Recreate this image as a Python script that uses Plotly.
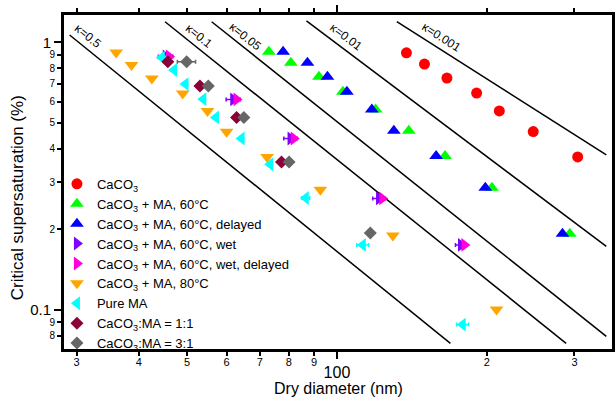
import plotly.graph_objects as go

# ---------------- data ----------------
caco3_d = [137.9, 149.9, 166.3, 190.8, 211.9, 247.9, 304.5]
caco3_s = [0.914, 0.829, 0.735, 0.646, 0.554, 0.464, 0.373]

ma60_d = [72.97, 80.78, 92.0, 102.8, 119.6, 139.4, 164.9, 204.8, 293.6]
ma60_s = [0.922, 0.839, 0.743, 0.653, 0.561, 0.467, 0.376, 0.286, 0.1926]

ma60del_d = [77.95, 87.24, 95.7, 104.7, 117.5, 130.1, 158.2, 198.6, 283.8]
ma60del_s = [0.922, 0.839, 0.743, 0.653, 0.561, 0.467, 0.376, 0.286, 0.1926]

wet_d = [45.3, 61.9, 80.7, 121.5, 177.5]
wet_s = [0.885, 0.612, 0.437, 0.261, 0.1749]
wet_err = [1.5, 2.0, 2.5, 3.5, 4.5]

wetdel_d = [45.99, 62.86, 81.90, 123.3, 180.3]
wetdel_s = [0.885, 0.612, 0.437, 0.261, 0.1749]

ma80_d = [36.02, 38.66, 42.48, 49.00, 54.95, 60.02, 72.40, 92.6, 129.5, 209.2]
ma80_s = [0.917, 0.822, 0.733, 0.644, 0.554, 0.463, 0.373, 0.2813, 0.1898, 0.1003]

pure_d = [44.48, 47.07, 49.63, 53.89, 57.14, 64.33, 73.41, 86.56, 112.7, 178.9]
pure_s = [0.877, 0.788, 0.698, 0.613, 0.524, 0.437, 0.350, 0.262, 0.1749, 0.0881]
pure_err = [0.8, 0.5, 0.5, 0.5, 0.5, 0.6, 0.8, 1.6, 3.1, 5.0]

r11_d = [45.74, 53.06, 62.86, 77.38]
r11_s = [0.847, 0.686, 0.524, 0.357]

r31_d = [49.90, 55.15, 65.01, 80.13, 116.7]
r31_s = [0.847, 0.686, 0.524, 0.357, 0.1936]
r31_err = [2.1, 0.5, 0.5, 0.5, 0.5]

# kappa lines: end points (diameter nm, supersaturation %)
kappa_labels = ["κ=0.5", "κ=0.1", "κ=0.05", "κ=0.01", "κ=0.001"]
kappa_d0 = [29.04, 45.15, 56.02, 86.84, 131.9]
kappa_s0 = [1.065, 1.194, 1.194, 1.202, 1.194]
kappa_d1 = [169.0, 288.6, 347.6, 347.6, 347.6]
kappa_s1 = [0.0750, 0.0750, 0.0796, 0.1726, 0.3793]
# label anchor (log10 units) and angle
kappa_lab_x = [1.4994, 1.7228, 1.8170, 2.0188, 2.2092]
kappa_lab_y = [0.0236, 0.0236, 0.021, 0.021, 0.021]
kappa_lab_ang = [39, 38.6, 38.4, 36.8, 32.3]

x_minor_vals = [30, 40, 50, 60, 70, 80, 90, 200, 300]
x_minor_text = ["3", "4", "5", "6", "7", "8", "9", "2", "3"]
y_minor_vals = [0.08, 0.09, 0.2, 0.3, 0.4, 0.5, 0.6, 0.7, 0.8, 0.9]
y_minor_text = ["8", "9", "2", "3", "4", "5", "6", "7", "8", "9"]

FONT = "Liberation Sans, Arial, sans-serif"

fig = go.Figure()

# kappa lines
for i in range(len(kappa_labels)):
    fig.add_trace(go.Scatter(
        x=[kappa_d0[i], kappa_d1[i]], y=[kappa_s0[i], kappa_s1[i]],
        mode="lines", line=dict(color="black", width=1.5),
        showlegend=False, hoverinfo="skip"))

def add_series(name, xs, ys, symbol, color, size, err=None):
    kw = {}
    if err is not None:
        kw["error_x"] = dict(type="data", array=err, color=color,
                             thickness=1.5, width=2)
    fig.add_trace(go.Scatter(
        x=xs, y=ys, mode="markers", name=name,
        marker=dict(symbol=symbol, color=color, size=size,
                    line=dict(width=0)), **kw))

add_series("CaCO<sub>3</sub>", caco3_d, caco3_s, "circle", "#ff0000", 11)
add_series("CaCO<sub>3</sub> + MA, 60°C", ma60_d, ma60_s, "triangle-up", "#00ff00", 12)
add_series("CaCO<sub>3</sub> + MA, 60°C, delayed", ma60del_d, ma60del_s, "triangle-up", "#0000ff", 12)
add_series("CaCO<sub>3</sub> + MA, 60°C, wet", wet_d, wet_s, "triangle-right", "#7f00ff", 12, wet_err)
add_series("CaCO<sub>3</sub> + MA, 60°C, wet, delayed", wetdel_d, wetdel_s, "triangle-right", "#ff00dd", 12)
add_series("CaCO<sub>3</sub> + MA, 80°C", ma80_d, ma80_s, "triangle-down", "#ffa500", 12)
add_series("Pure MA", pure_d, pure_s, "triangle-left", "#00ffff", 12, pure_err)
add_series("CaCO<sub>3</sub>:MA = 1:1", r11_d, r11_s, "diamond", "#8b0036", 10)
add_series("CaCO<sub>3</sub>:MA = 3:1", r31_d, r31_s, "diamond", "#666666", 10, r31_err)

# dummy traces to bind the overlay axes
fig.add_trace(go.Scatter(x=[], y=[], xaxis="x2", yaxis="y", showlegend=False))
fig.add_trace(go.Scatter(x=[], y=[], xaxis="x", yaxis="y2", showlegend=False))

for i, lab in enumerate(kappa_labels):
    fig.add_annotation(x=kappa_lab_x[i], y=kappa_lab_y[i], xref="x", yref="y",
                       text=lab, showarrow=False, textangle=kappa_lab_ang[i],
                       font=dict(family=FONT, size=12, color="black"))

# axis titles
fig.add_annotation(x=-0.0835, y=0.452, xref="paper", yref="paper",
                   xanchor="center", yanchor="middle",
                   text="Critical supersaturation (%)", showarrow=False,
                   textangle=-90, font=dict(family=FONT, size=17, color="black"))
fig.add_annotation(x=0.5, y=-0.114, xref="paper", yref="paper",
                   xanchor="center", yanchor="middle",
                   text="Dry diameter (nm)", showarrow=False,
                   font=dict(family=FONT, size=16, color="black"))

# plot frame
fig.add_shape(type="rect", xref="paper", yref="paper", x0=0, x1=1, y0=0, y1=1,
              line=dict(color="black", width=2), fillcolor="rgba(0,0,0,0)",
              layer="above")

xr = [1.4497, 2.5545]
yr = [-1.15, 0.1059]

common = dict(showgrid=False, zeroline=False, showline=True, linecolor="black",
              linewidth=2, ticks="outside", tickcolor="black", tickwidth=1.5,
              mirror="allticks")

fig.update_layout(
    width=615, height=397,
    margin=dict(l=63, r=2, t=14, b=47, pad=0, autoexpand=False),
    plot_bgcolor="white", paper_bgcolor="white",
    font=dict(family=FONT, color="black"),
    xaxis=dict(type="log", range=xr, tickmode="array", tickvals=[100],
               ticktext=["100"], ticklen=7, tickfont=dict(size=16),
               ticklabelstandoff=0, **common),
    xaxis2=dict(type="log", range=xr, overlaying="x", anchor="y", side="bottom",
                tickmode="array", tickvals=x_minor_vals, ticktext=x_minor_text,
                ticklen=4, tickfont=dict(size=11), ticklabelstandoff=-3, **common),
    yaxis=dict(type="log", range=yr, tickmode="array", tickvals=[0.1, 1],
               ticktext=["0.1", "1"], ticklen=7, tickfont=dict(size=15),
               **common),
    yaxis2=dict(type="log", range=yr, overlaying="y", anchor="x", side="left",
                tickmode="array", tickvals=y_minor_vals, ticktext=y_minor_text,
                ticklen=4, tickfont=dict(size=10), **common),
    legend=dict(x=-0.011, xanchor="left", y=0.539, yanchor="top",
                bgcolor="rgba(0,0,0,0)", font=dict(family=FONT, size=13),
                borderwidth=0),
    showlegend=True,
)

# remove the default 8px page margin so the 615x397 figure fills the window
fig.write_html("out.html",
               config={"displayModeBar": False},
               post_script="document.body.style.margin='0px';"
                           "document.body.style.overflow='hidden';")
